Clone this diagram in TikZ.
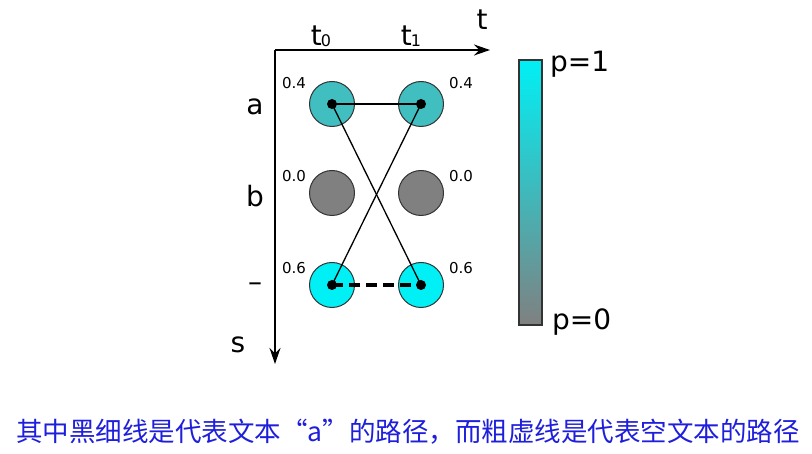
\documentclass[tikz,border=0pt]{standalone}
\usepackage{fontspec}
\setmainfont{DejaVu Sans}
\newfontfamily\cjk{Noto Sans CJK SC}
\usetikzlibrary{arrows.meta}
\definecolor{tealc}{RGB}{64,190,192}
\definecolor{cyanc}{RGB}{0,240,245}
\definecolor{greyc}{RGB}{128,128,128}
\definecolor{bluet}{RGB}{30,30,220}
\tikzset{
  st/.style={circle,draw=black!80,line width=1pt,minimum size=45pt,inner sep=0pt},
  lab/.style={font=\fontsize{28}{28}\selectfont,inner sep=0pt},
  prob/.style={font=\fontsize{15}{15}\selectfont,inner sep=0pt},
  ax/.style={line width=1.5pt,-{Stealth[length=16pt,width=11pt]}},
  dotc/.style={circle,fill=black,minimum size=10pt,inner sep=0pt}
}
\begin{document}
\begin{tikzpicture}[x=1pt,y=-1pt]
\useasboundingbox (0,0) rectangle (812,454);
\coordinate (o) at (275,50);
\coordinate (te) at (490,50);
\coordinate (se) at (275,364);
\draw[ax] (o) -- (te);
\draw[ax] (o) -- (se);
\node[lab] (tl) at (482,20) {t};
\node[lab] (sl) at (238,345) {s};
\node[lab] (t0) at (321,36) {t\kern-1pt\raisebox{-1pt}{\fontsize{16}{16}\selectfont 0}};
\node[lab] (t1) at (411,36) {t\kern-1pt\raisebox{-1pt}{\fontsize{16}{16}\selectfont 1}};
\node[lab] (la) at (255,107) {a};
\node[lab] (lb) at (255,196) {b};
\node[lab] (lm) at (255,287) {–};
\node[st,fill=tealc] (a0) at (332,104) {};
\node[st,fill=tealc] (a1) at (421,104) {};
\node[st,fill=greyc] (b0) at (332,193) {};
\node[st,fill=greyc] (b1) at (421,193) {};
\node[st,fill=cyanc] (m0) at (332,285) {};
\node[st,fill=cyanc] (m1) at (421,285) {};
\node[prob] (pa0) at (294,83) {0.4};
\node[prob] (pa1) at (461,83) {0.4};
\node[prob] (pb0) at (294,176) {0.0};
\node[prob] (pb1) at (461,176) {0.0};
\node[prob] (pm0) at (294,268) {0.6};
\node[prob] (pm1) at (461,268) {0.6};
\node[dotc] (da0) at (a0) {};
\node[dotc] (da1) at (a1) {};
\node[dotc] (dm0) at (m0) {};
\node[dotc] (dm1) at (m1) {};
\draw[line width=1.3pt] (da0.center) -- (da1.center);
\draw[line width=1.3pt] (da0.center) -- (dm1.center);
\draw[line width=1.3pt] (dm0.center) -- (da1.center);
\draw[line width=4pt,dash pattern=on 11pt off 6pt] (dm0.center) -- (dm1.center);
\shade[top color=cyanc,bottom color=greyc,draw=black!80,line width=1.2pt] (519,60) rectangle (542,325);
\node[lab,anchor=west] (p1) at (550,64) {p=1};
\node[lab,anchor=west] (p0) at (552,322) {p=0};
\node[font=\cjk\fontsize{26.5}{26.5}\selectfont,text=bluet,inner sep=0pt] (cap) at (408,432) {其中黑细线是代表文本“a”的路径，而粗虚线是代表空文本的路径};
\end{tikzpicture}
\end{document}
